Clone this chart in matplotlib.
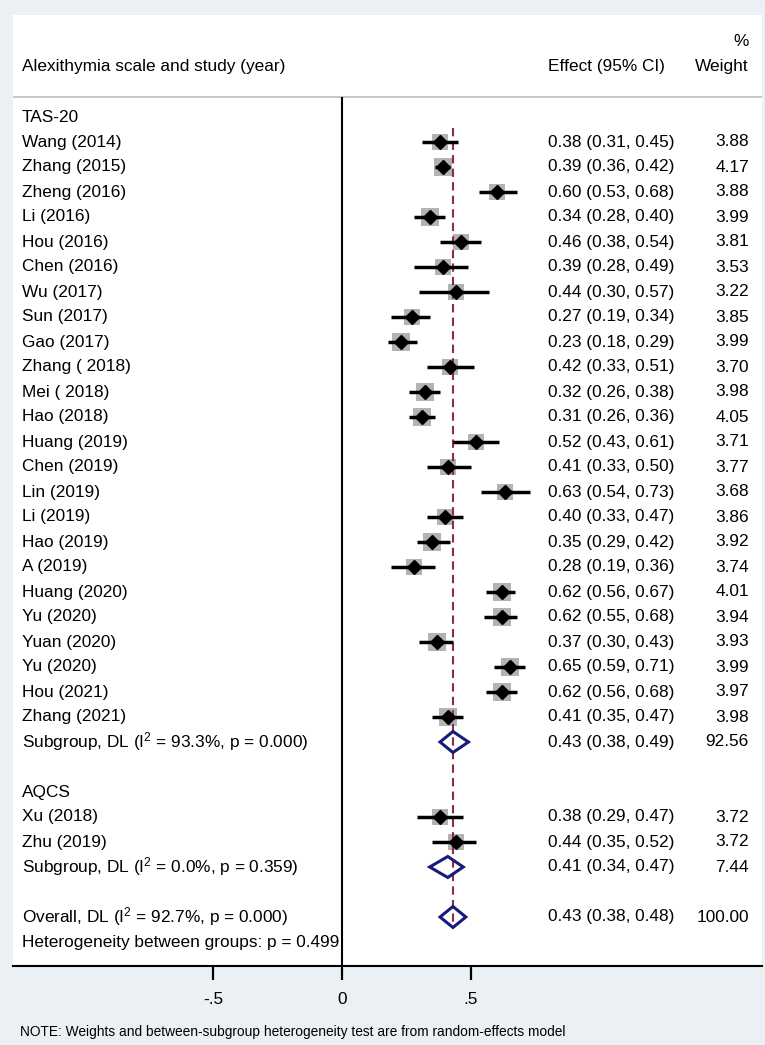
import matplotlib
matplotlib.use("Agg")
import matplotlib.pyplot as plt
import numpy as np
from matplotlib.patches import Polygon

plt.rcParams["font.family"] = ["Liberation Sans", "DejaVu Sans"]
plt.rcParams["mathtext.fontset"] = "custom"
plt.rcParams["mathtext.rm"] = "Liberation Sans"
plt.rcParams["mathtext.it"] = "Liberation Sans"

# ---- data ----
tas_labels = [
    "Wang (2014)", "Zhang (2015)", "Zheng (2016)", "Li (2016)", "Hou (2016)",
    "Chen (2016)", "Wu (2017)", "Sun (2017)", "Gao (2017)", "Zhang ( 2018)",
    "Mei ( 2018)", "Hao (2018)", "Huang (2019)", "Chen (2019)", "Lin (2019)",
    "Li (2019)", "Hao (2019)", "A (2019)", "Huang (2020)", "Yu (2020)",
    "Yuan (2020)", "Yu (2020)", "Hou (2021)", "Zhang (2021)",
]
tas_es = [0.38, 0.39, 0.60, 0.34, 0.46, 0.39, 0.44, 0.27, 0.23, 0.42, 0.32, 0.31,
          0.52, 0.41, 0.63, 0.40, 0.35, 0.28, 0.62, 0.62, 0.37, 0.65, 0.62, 0.41]
tas_lo = [0.31, 0.36, 0.53, 0.28, 0.38, 0.28, 0.30, 0.19, 0.18, 0.33, 0.26, 0.26,
          0.43, 0.33, 0.54, 0.33, 0.29, 0.19, 0.56, 0.55, 0.30, 0.59, 0.56, 0.35]
tas_hi = [0.45, 0.42, 0.68, 0.40, 0.54, 0.49, 0.57, 0.34, 0.29, 0.51, 0.38, 0.36,
          0.61, 0.50, 0.73, 0.47, 0.42, 0.36, 0.67, 0.68, 0.43, 0.71, 0.68, 0.47]
tas_w = [3.88, 4.17, 3.88, 3.99, 3.81, 3.53, 3.22, 3.85, 3.99, 3.70, 3.98, 4.05,
         3.71, 3.77, 3.68, 3.86, 3.92, 3.74, 4.01, 3.94, 3.93, 3.99, 3.97, 3.98]
tas_sub = (0.43, 0.38, 0.49, 92.56)
tas_sub_label = "Subgroup, DL (I$^{2}$ = 93.3%, p = 0.000)"

aqcs_labels = ["Xu (2018)", "Zhu (2019)"]
aqcs_es = [0.38, 0.44]
aqcs_lo = [0.29, 0.35]
aqcs_hi = [0.47, 0.52]
aqcs_w = [3.72, 3.72]
aqcs_sub = (0.41, 0.34, 0.47, 7.44)
aqcs_sub_label = "Subgroup, DL (I$^{2}$ = 0.0%, p = 0.359)"

overall = (0.43, 0.38, 0.48, 100.00)
overall_label = "Overall, DL (I$^{2}$ = 92.7%, p = 0.000)"
het_label = "Heterogeneity between groups: p = 0.499"

x_ticks = [-0.5, 0, 0.5]
x_tick_labels = ["-.5", "0", ".5"]

# ---- layout (pixel geometry of the 765x1045 canvas) ----
W, H = 765, 1045
PX_PER_UNIT = 258.0
X0_PX = 342.0
AX_L, AX_R, AX_T, AX_B = 13, 762, 15, 966
ROW0_PX, ROW_PX = 117.0, 25.0

BG = "#eaf0f3"
NAVY = "#1a1a7a"
MAROON = "#8c2d46"
BOX = "#b3b3b3"
FS = 12.4


def px_x(px):
    return (px - X0_PX) / PX_PER_UNIT


def px_row(py):
    return (py - ROW0_PX) / ROW_PX


fig = plt.figure(figsize=(W / 100, H / 100), dpi=100, facecolor=BG)
ax = fig.add_axes([AX_L / W, 1 - AX_B / H, (AX_R - AX_L) / W, (AX_B - AX_T) / H])
ax.set_facecolor("white")
ax.set_xlim(px_x(AX_L), px_x(AX_R))
ax.set_ylim(px_row(AX_B), px_row(AX_T))

for name in ("top", "left", "right"):
    ax.spines[name].set_visible(False)
ax.spines["bottom"].set_linewidth(1.5)
ax.set_yticks([])
ax.set_xticks(x_ticks)
ax.set_xticklabels(x_tick_labels, fontsize=FS)
ax.tick_params(axis="x", direction="out", length=10, width=1.6, pad=9)

lab_x = px_x(22)
eff_x = px_x(548)
wt_x = px_x(749)


def study_row(row, label, es, lo, hi, w):
    side_pt = 8.6 * np.sqrt(w) * 0.72
    ax.scatter([es], [row], marker="s", s=side_pt ** 2, color=BOX, zorder=2, linewidths=0)
    ax.hlines(row, lo, hi, color="black", lw=2.5, zorder=3)
    ax.plot([es], [row], marker="D", ms=7.6, color="black", zorder=4, ls="none")
    ax.text(lab_x, row, label, fontsize=FS, va="center", ha="left")
    ax.text(eff_x, row, f"{es:.2f} ({lo:.2f}, {hi:.2f})", fontsize=FS, va="center", ha="left")
    ax.text(wt_x, row, f"{w:.2f}", fontsize=FS, va="center", ha="right")


def pooled_row(row, label, vals):
    es, lo, hi, w = vals
    h = 0.42
    poly = Polygon([(lo, row), (es, row - h), (hi, row), (es, row + h)], closed=True,
                   fill=False, edgecolor=NAVY, lw=2.2, zorder=5)
    ax.add_patch(poly)
    ax.text(lab_x, row, label, fontsize=FS, va="center", ha="left")
    ax.text(eff_x, row, f"{es:.2f} ({lo:.2f}, {hi:.2f})", fontsize=FS, va="center", ha="left")
    ax.text(wt_x, row, f"{w:.2f}", fontsize=FS, va="center", ha="right")


# header
ax.text(lab_x, -2, "Alexithymia scale and study (year)", fontsize=FS, va="center", ha="left")
ax.text(eff_x, -2, "Effect (95% CI)", fontsize=FS, va="center", ha="left")
ax.text(wt_x, -3, "%", fontsize=FS, va="center", ha="right")
ax.text(wt_x, -2, "Weight", fontsize=FS, va="center", ha="right")
sep = px_row(97)
ax.axhline(sep, color="#bdbdbd", lw=1.2, zorder=1)
ax.vlines(0, sep, px_row(AX_B), color="black", lw=1.5, zorder=1)

# TAS-20 group
row = 0
ax.text(lab_x, row, "TAS-20", fontsize=FS, va="center", ha="left")
for i in range(len(tas_labels)):
    row += 1
    study_row(row, tas_labels[i], tas_es[i], tas_lo[i], tas_hi[i], tas_w[i])
row += 1
pooled_row(row, tas_sub_label, tas_sub)

# AQCS group
row += 2
ax.text(lab_x, row, "AQCS", fontsize=FS, va="center", ha="left")
for i in range(len(aqcs_labels)):
    row += 1
    study_row(row, aqcs_labels[i], aqcs_es[i], aqcs_lo[i], aqcs_hi[i], aqcs_w[i])
row += 1
pooled_row(row, aqcs_sub_label, aqcs_sub)

# overall
row += 2
pooled_row(row, overall_label, overall)
ax.vlines(overall[0], 0.45, row + 0.45, color=MAROON, lw=1.5,
          linestyles=(0, (4, 2.5)), zorder=2.5)
row += 1
ax.text(lab_x, row, het_label, fontsize=FS, va="center", ha="left")

fig.text(20 / W, 1 - 1032 / H,
         "NOTE: Weights and between-subgroup heterogeneity test are from random-effects model",
         fontsize=9.9, va="center", ha="left")

fig.savefig("out.png", dpi=100, facecolor=BG)
